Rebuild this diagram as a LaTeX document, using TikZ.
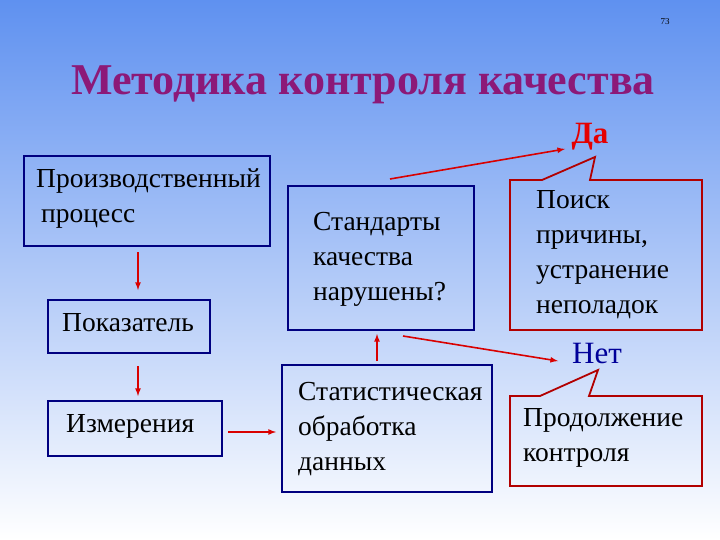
\documentclass[tikz,border=0pt]{standalone}
\usepackage{fontspec}
\setmainfont{Liberation Serif}
\begin{document}
\begin{tikzpicture}[x=1pt,y=-1pt,
  bx/.style={draw=blue!50!black,line width=1.8pt},
  rbx/.style={draw=red!70!black,line width=1.8pt},
  arr/.style={draw=red!85!black,line width=1.6pt,-latex},
  txt/.style={font=\fontsize{27.5}{35}\selectfont,align=left,anchor=north west,inner sep=0pt}]
\shade[top color={rgb,255:red,95;green,145;blue,240},bottom color=white] (0,0) rectangle (720,540);
\useasboundingbox (0,0) rectangle (720,540);
\node (num) at (665,22) {\fontsize{9}{10}\selectfont 73};
\node[text={rgb,255:red,140;green,25;blue,120},font=\fontsize{44}{50}\selectfont\bfseries] (title) at (363,85) {Методика контроля качества};
% left column
\draw[bx] (24,156) rectangle (270,246);
\node[txt] (prod) at (36,168) {Производственный\\\hspace*{5pt}процесс};
\coordinate (prodB) at (138,252);
\draw[bx] (48,300) rectangle (210,353);
\node[txt] (pok) at (62,313) {Показатель};
\coordinate (pokT) at (138,290);
\coordinate (pokB) at (138,366);
\draw[bx] (48,401) rectangle (222,456);
\node[txt] (izm) at (66,414) {Измерения};
\coordinate (izmT) at (138,396);
\coordinate (izmR) at (228,432);
\draw[arr] (prodB) -- (pokT);
\draw[arr] (pokB) -- (izmT);
% middle
\draw[bx] (288,186) rectangle (474,330);
\node[txt] (std) at (313,212) {Стандарты\\качества\\нарушены?};
\draw[bx] (282,365) rectangle (492,492);
\node[txt] (stat) at (298,382) {Статистическая\\обработка\\данных};
\coordinate (statL) at (276,432);
\draw[arr] (izmR) -- (statL);
\coordinate (statT) at (377,361);
\coordinate (stdB) at (377,334);
\draw[arr] (statT) -- (stdB);
% right
\node[text=red!90!black,font=\fontsize{31}{34}\selectfont\bfseries] (da) at (590,137) {Да};
\node[text=blue!60!black,font=\fontsize{31}{34}\selectfont] (net) at (597,354) {Нет};
\coordinate (stdTop) at (390,179);
\coordinate (daL) at (565,149);
\draw[arr] (stdTop) -- (daL);
\coordinate (stdBot) at (403,336);
\coordinate (netL) at (558,361);
\draw[arr] (stdBot) -- (netL);
\draw[rbx,line join=miter] (590,180) -- (702,180) -- (702,330) -- (510,330) -- (510,180) -- (542,180) -- (595,157) -- cycle;
\node[txt] (poisk) at (536,190) {Поиск\\причины,\\устранение\\неполадок};
\draw[rbx,line join=miter] (589,396) -- (702,396) -- (702,486) -- (510,486) -- (510,396) -- (540,396) -- (598,370) -- cycle;
\node[txt] (prodol) at (523,408) {Продолжение\\контроля};
\end{tikzpicture}
\end{document}
